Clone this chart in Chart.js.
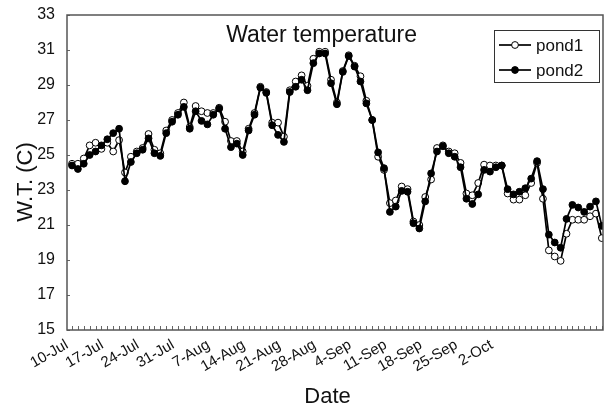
<!DOCTYPE html>
<html>
<head>
<meta charset="utf-8">
<script src="https://cdn.jsdelivr.net/npm/chart.js@4.4.0/dist/chart.umd.min.js"></script>
<style>
  html, body { margin: 0; padding: 0; background: #fff; }
  #wrap { width: 608px; height: 412px; }
</style>
</head>
<body>
<div id="wrap"><canvas id="c" width="608" height="412"></canvas></div>
<script>
// Daily water temperature readings (°C) for the two ponds
const pond1 = [
  24.5, 24.5, 24.8, 25.55, 25.7, 25.35, 25.7, 25.2, 25.85, 24.0,
  24.9, 25.2, 25.4, 26.2, 25.3, 25.1, 26.4, 27.0, 27.4, 28.0,
  26.6, 27.8, 27.5, 27.4, 27.4, 27.7, 26.9, 25.8, 25.8, 25.2,
  26.5, 27.4, 28.9, 28.6, 26.85, 26.85, 26.05, 28.7, 29.2, 29.55,
  28.95, 30.5, 30.9, 30.9, 29.3, 28.0, 29.8, 30.7, 30.1, 29.5,
  28.1, 27.0, 24.9, 24.15, 22.25, 22.4, 23.2, 23.05, 21.2, 21.0,
  22.6, 23.6, 25.4, 25.55, 25.2, 25.1, 24.55, 22.8, 22.7, 23.4,
  24.45, 24.4, 24.4, 24.4, 22.8, 22.45, 22.45, 22.7, 23.4, 24.55,
  22.5, 19.55, 19.2, 18.95, 20.5, 21.3, 21.3, 21.3, 21.5, 21.65, 20.25
];
const pond2 = [
  24.4, 24.2, 24.5, 25.0, 25.2, 25.55, 25.9, 26.25, 26.5, 23.5,
  24.6, 25.1, 25.3, 25.95, 25.1, 24.95, 26.25, 26.9, 27.3, 27.75,
  26.5, 27.5, 26.95, 26.75, 27.3, 27.65, 26.5, 25.45, 25.65, 25.0,
  26.4, 27.3, 28.85, 28.55, 26.7, 26.15, 25.75, 28.6, 28.9, 29.3,
  28.7, 30.25, 30.8, 30.8, 29.1, 27.9, 29.75, 30.65, 30.05, 29.2,
  27.95, 27.0, 25.15, 24.25, 21.75, 22.05, 22.95, 22.9, 21.1, 20.8,
  22.35, 23.95, 25.2, 25.5, 25.1, 24.9, 24.3, 22.5, 22.2, 22.75,
  24.15, 24.05, 24.3, 24.4, 23.05, 22.75, 22.9, 23.1, 23.65, 24.65,
  23.05, 20.45, 20.0, 19.7, 21.35, 22.15, 22.0, 21.75, 22.05, 22.35, 20.95
];
// Weekly date labels on the x axis
const dateLabels = ['10-Jul', '17-Jul', '24-Jul', '31-Jul', '7-Aug', '14-Aug', '21-Aug',
  '28-Aug', '4-Sep', '11-Sep', '18-Sep', '25-Sep', '2-Oct'];
const yMin = 15, yMax = 33, yStep = 2;

const FONT = "'Liberation Sans', Arial, Helvetica, sans-serif";
const INK = '#111';

const toPoints = arr => arr.map((v, i) => ({ x: i, y: v }));

// Frame, inner tick marks, titles and legend box
const decorations = {
  id: 'decorations',
  afterDraw(chart) {
    const { ctx, chartArea: a, scales } = chart;
    ctx.save();
    // inner minor ticks along the bottom, one per reading
    ctx.strokeStyle = '#666';
    ctx.lineWidth = 1;
    ctx.beginPath();
    for (let i = 0; i < pond1.length; i++) {
      const x = Math.round(scales.x.getPixelForValue(i)) + 0.5;
      ctx.moveTo(x, a.bottom);
      ctx.lineTo(x, a.bottom - 4);
    }
    // inner ticks on the y axis
    scales.y.ticks.forEach(t => {
      const y = Math.round(scales.y.getPixelForValue(t.value)) + 0.5;
      ctx.moveTo(a.left, y);
      ctx.lineTo(a.left + 3, y);
    });
    ctx.stroke();

    // plot frame
    ctx.strokeStyle = '#555';
    ctx.lineWidth = 1.5;
    ctx.strokeRect(a.left, a.top, a.right - a.left, a.bottom - a.top);

    // chart title inside the plot
    ctx.fillStyle = INK;
    ctx.font = '23px ' + FONT;
    ctx.textAlign = 'center';
    ctx.textBaseline = 'alphabetic';
    ctx.fillText('Water temperature', a.left + (a.right - a.left) * 0.475, a.top + 27);

    // axis titles
    ctx.font = '22px ' + FONT;
    ctx.fillText('Date', a.left + (a.right - a.left) * 0.486, 403);
    ctx.save();
    ctx.translate(32, a.top + (a.bottom - a.top) * 0.53);
    ctx.rotate(-Math.PI / 2);
    ctx.fillText('W.T. (C)', 0, 0);
    ctx.restore();

    // legend
    const lw = 105, lh = 52;
    const lx = a.right - 4 - lw, ly = a.top + 15;
    ctx.fillStyle = '#fff';
    ctx.fillRect(lx, ly, lw, lh);
    ctx.strokeStyle = '#333';
    ctx.lineWidth = 1;
    ctx.strokeRect(lx + 0.5, ly + 0.5, lw, lh);
    chart.data.datasets.forEach((ds, k) => {
      const cy = ly + 15 + k * 25;
      ctx.strokeStyle = ds.borderColor;
      ctx.lineWidth = ds.borderWidth;
      ctx.beginPath();
      ctx.moveTo(lx + 5, cy);
      ctx.lineTo(lx + 37, cy);
      ctx.stroke();
      ctx.beginPath();
      ctx.arc(lx + 21, cy, ds.pointRadius, 0, Math.PI * 2);
      ctx.fillStyle = ds.pointBackgroundColor;
      ctx.fill();
      ctx.lineWidth = ds.pointBorderWidth;
      ctx.strokeStyle = ds.pointBorderColor;
      ctx.stroke();
      ctx.fillStyle = INK;
      ctx.font = '17px ' + FONT;
      ctx.textAlign = 'left';
      ctx.textBaseline = 'middle';
      ctx.fillText(ds.label, lx + 42, cy + 1);
    });
    ctx.restore();
  }
};

new Chart(document.getElementById('c'), {
  type: 'line',
  data: {
    datasets: [
      {
        label: 'pond1', data: toPoints(pond1), xAxisID: 'x', yAxisID: 'y',
        borderColor: '#000', borderWidth: 1.7, order: 1,
        pointRadius: 3.4, pointBorderWidth: 1, pointBorderColor: '#000',
        pointBackgroundColor: '#fff', tension: 0
      },
      {
        label: 'pond2', data: toPoints(pond2), xAxisID: 'x', yAxisID: 'y',
        borderColor: '#000', borderWidth: 1.7, order: 0,
        pointRadius: 3.4, pointBorderWidth: 1, pointBorderColor: '#000',
        pointBackgroundColor: '#000', tension: 0
      }
    ]
  },
  options: {
    responsive: false,
    animation: false,
    devicePixelRatio: 1,
    layout: { padding: { top: 15, right: 4, left: 0, bottom: 0 } },
    plugins: { legend: { display: false }, tooltip: { enabled: false } },
    scales: {
      x: { type: 'linear', display: false, min: -0.85, max: 90.2 },
      xd: {
        type: 'linear', position: 'bottom', min: 0, max: 106,
        grid: { display: false, drawTicks: false }, border: { display: false },
        ticks: {
          stepSize: 7, autoSkip: false, minRotation: 30, maxRotation: 30, padding: 6,
          color: INK, font: { family: FONT, size: 15 },
          callback: v => dateLabels[v / 7] ?? ''
        },
        afterFit(s) { s.height = 82; s.paddingLeft = 0; s.paddingRight = 0; }
      },
      y: {
        min: yMin, max: yMax,
        grid: { display: false, drawTicks: false }, border: { display: false },
        ticks: { stepSize: yStep, padding: 12, color: INK, font: { family: FONT, size: 16 } },
        afterFit(s) { s.width = 67; s.paddingTop = 0; s.paddingBottom = 0; }
      }
    }
  },
  plugins: [decorations]
});
</script>
</body>
</html>
